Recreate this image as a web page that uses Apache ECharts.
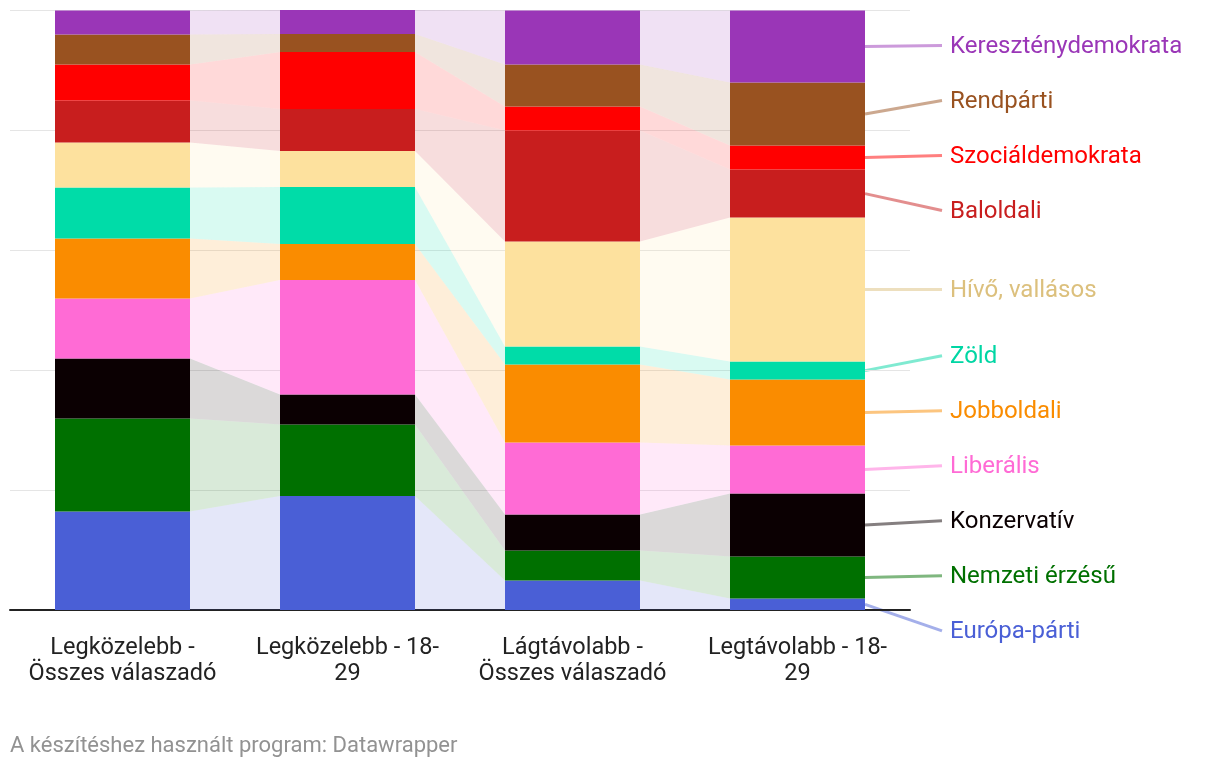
<!DOCTYPE html>
<html>
<head>
<meta charset="utf-8">
<script src="https://cdn.jsdelivr.net/npm/echarts@6/dist/echarts.min.js"></script>
<style>
html,body{margin:0;padding:0;background:#fff;}
#chart{width:1220px;height:768px;}
</style>
</head>
<body>
<div id="chart"></div>
<script>
// ---- data ----
const categories = ["Legközelebb -\nÖsszes válaszadó", "Legközelebb - 18-\n29", "Lágtávolabb -\nÖsszes válaszadó", "Legtávolabb - 18-\n29"];
// bottom to top
const seriesNames = ["Európa-párti", "Nemzeti érzésű", "Konzervatív", "Liberális", "Jobboldali", "Zöld", "Hívő, vallásos", "Baloldali", "Szociáldemokrata", "Rendpárti", "Kereszténydemokrata"];
const europa       = [16.4, 19.0, 4.9, 1.9];
const nemzeti      = [15.5, 11.9, 5.0, 7.0];
const konzervativ  = [10.0, 5.0, 6.0, 10.5];
const liberalis    = [10.0, 19.1, 12.0, 8.0];
const jobboldali   = [10.0, 6.0, 13.0, 11.0];
const zold         = [8.5, 9.5, 3.0, 3.0];
const hivo         = [7.5, 6.0, 17.5, 24.0];
const baloldali    = [7.0, 7.0, 18.5, 8.0];
const szocdem      = [6.0, 9.5, 4.0, 4.0];
const rendparti    = [5.0, 3.0, 7.0, 10.5];
const kdnp         = [4.0, 4.0, 9.0, 12.0];
const yTicks = [0, 20, 40, 60, 80, 100];
const footer = "A készítéshez használt program: Datawrapper";

const values = [europa, nemzeti, konzervativ, liberalis, jobboldali, zold, hivo, baloldali, szocdem, rendparti, kdnp];
const colors = ["#4a5fd6", "#007000", "#0b0002", "#ff6bd5", "#fa8c00", "#00dca8", "#fde19e", "#c81e1e", "#ff0000", "#995220", "#9a36b7"];
const textColors = ["#4a5fd6", "#007000", "#0b0002", "#ff6bd5", "#fa8c00", "#00d6a4", "#dcc07d", "#c81e1e", "#ff0000", "#995220", "#9a36b7"];

// cumulative bases
const bases = values.map(() => [0, 0, 0, 0]);
for (let c = 0; c < categories.length; c++) {
  let acc = 0;
  for (let s = 0; s < values.length; s++) { bases[s][c] = acc; acc += values[s][c]; }
}

const chart = echarts.init(document.getElementById('chart'), null, {renderer: 'canvas'});
const FONT = 'Roboto, "Noto Sans", sans-serif';
const BAR_FRAC = 0.6;

const series = [];
values.forEach((vals, s) => {
  series.push({
    name: seriesNames[s], type: 'bar', stack: 'total', barWidth: (BAR_FRAC * 100) + '%',
    data: vals, itemStyle: {color: colors[s]}, z: 3, silent: true
  });
});
values.forEach((vals, s) => {
  const d = [];
  for (let i = 0; i < categories.length - 1; i++) {
    d.push([i, bases[s][i], bases[s][i] + vals[i], bases[s][i + 1], bases[s][i + 1] + vals[i + 1]]);
  }
  series.push({
    type: 'custom', z: 1, silent: true, data: d,
    renderItem: function (params, api) {
      const i = api.value(0);
      const bw = api.size([1, 0])[0] * BAR_FRAC / 2;
      const a0 = api.coord([i, api.value(1)]), a1 = api.coord([i, api.value(2)]);
      const b0 = api.coord([i + 1, api.value(3)]), b1 = api.coord([i + 1, api.value(4)]);
      return {
        type: 'polygon',
        shape: {points: [[a1[0] + bw, a1[1]], [b1[0] - bw, b1[1]], [b0[0] - bw, b0[1]], [a0[0] + bw, a0[1]]]},
        style: {fill: colors[s], opacity: 0.15}
      };
    }
  });
});

const option = {
  animation: false,
  grid: {left: 10, right: 310, top: 10, bottom: 158},
  xAxis: {
    type: 'category', data: categories,
    axisLine: {lineStyle: {color: '#222', width: 2}},
    axisTick: {alignWithLabel: true, length: 8, lineStyle: {color: '#222', width: 2}},
    axisLabel: {color: '#222', fontFamily: FONT, fontSize: 23.5, lineHeight: 26, margin: 25, interval: 0}
  },
  yAxis: {
    type: 'value', min: yTicks[0], max: yTicks[yTicks.length - 1], interval: yTicks[1] - yTicks[0],
    axisLabel: {show: false}, axisLine: {show: false}, axisTick: {show: false},
    splitLine: {lineStyle: {color: '#e5e5e5', width: 1}}
  },
  series: series,
  graphic: [{
    type: 'text', left: 10, top: 735,
    style: {text: footer, fill: '#929292', font: '22px ' + FONT}
  }]
};
chart.setOption(option);

// ---- right side labels with leader lines ----
const last = categories.length - 1;
const c0 = chart.convertToPixel({gridIndex: 0}, [0, 0]);
const c1 = chart.convertToPixel({gridIndex: 0}, [1, 0]);
const barHalf = (c1[0] - c0[0]) * BAR_FRAC / 2;
const xLast = chart.convertToPixel({gridIndex: 0}, [last, 0])[0];
const barRight = xLast + barHalf;

// desired y positions (top to bottom)
let items = [];
for (let s = values.length - 1; s >= 0; s--) {
  const mid = bases[s][last] + values[s][last] / 2;
  items.push({s: s, mid: chart.convertToPixel({gridIndex: 0}, [last, mid])[1]});
}
const GAP = 55;
let clusters = items.map(it => ({items: [it]}));
function place(cl) {
  const mean = cl.items.reduce((a, b) => a + b.mid, 0) / cl.items.length;
  cl.items.forEach((it, k) => { it.y = mean + (k - (cl.items.length - 1) / 2) * GAP; });
}
clusters.forEach(place);
let merged = true;
while (merged) {
  merged = false;
  for (let k = 1; k < clusters.length; k++) {
    const prev = clusters[k - 1], cur = clusters[k];
    if (prev.items[prev.items.length - 1].y + GAP > cur.items[0].y) {
      prev.items = prev.items.concat(cur.items);
      clusters.splice(k, 1);
      place(prev);
      merged = true;
      break;
    }
  }
}

const graphics = option.graphic.slice();
items.forEach(it => {
  graphics.push({
    type: 'line', silent: true,
    shape: {x1: barRight, y1: it.mid, x2: barRight + 77, y2: it.y},
    style: {stroke: textColors[it.s], lineWidth: 3, opacity: 0.5}
  });
  graphics.push({
    type: 'text', silent: true, x: barRight + 85, y: it.y + 1.5,
    style: {text: seriesNames[it.s], fill: textColors[it.s], font: '24px ' + FONT, textVerticalAlign: 'middle', verticalAlign: 'middle'}
  });
});
chart.setOption({graphic: graphics});
</script>
</body>
</html>
